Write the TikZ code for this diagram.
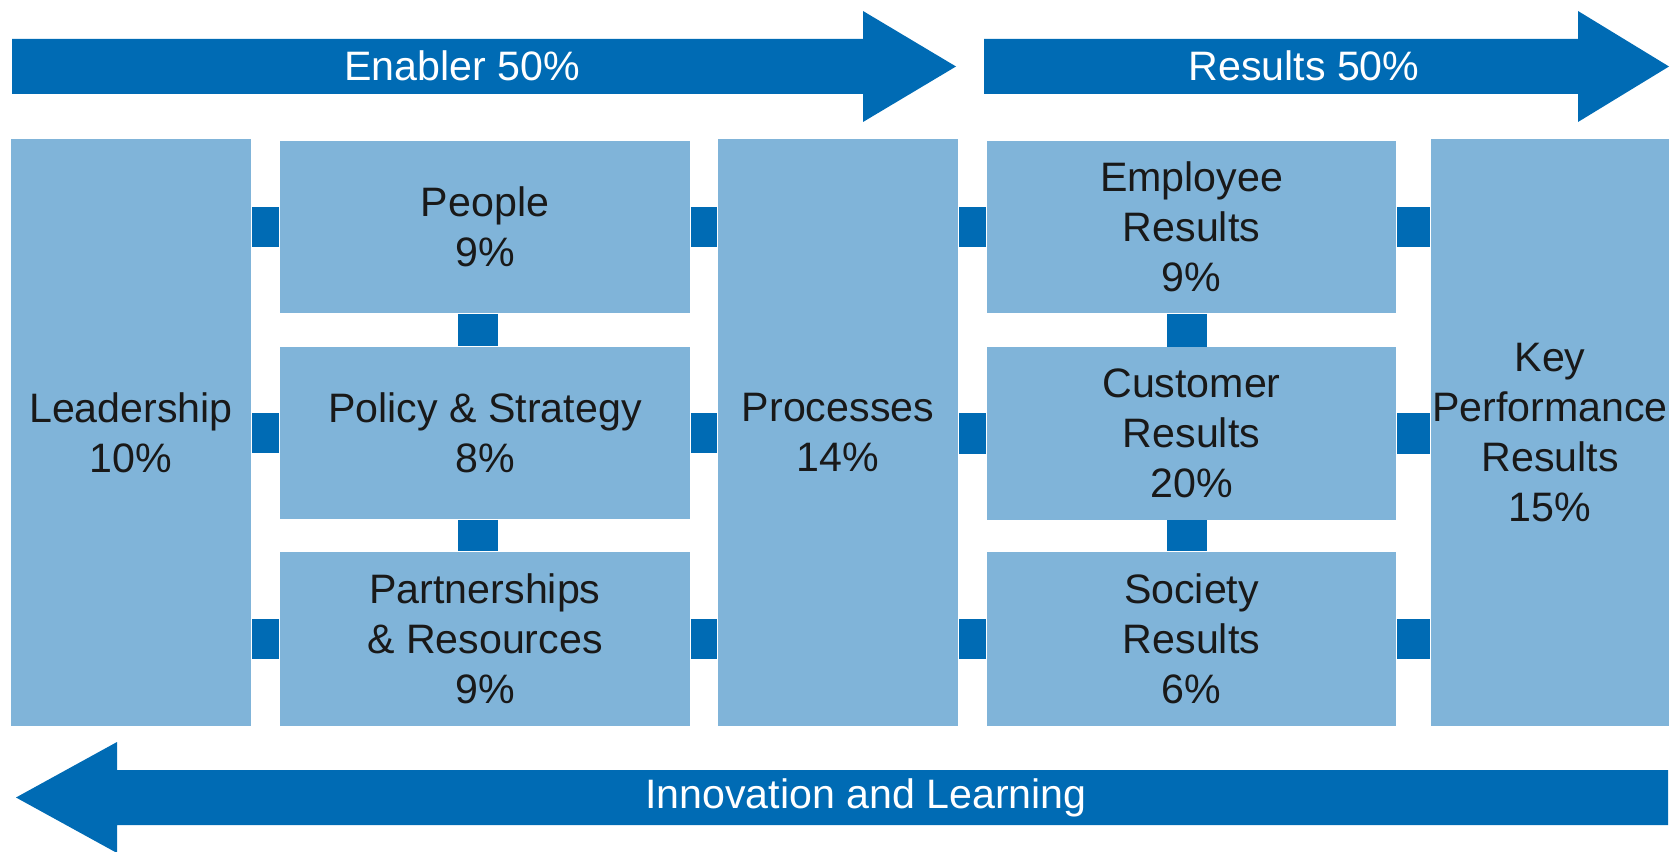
\documentclass[tikz,border=0pt]{standalone}
\usepackage{fontspec}
\setmainfont{Liberation Sans}
\usepackage{tikz}
\usetikzlibrary{positioning}
\usetikzlibrary{calc}
\definecolor{bleuefqm}{RGB}{0,107,180}
\definecolor{clairefqm}{RGB}{128,180,217}

\begin{document}
\begin{tikzpicture}[x=0.01cm,y=-0.01cm]
% les styles
\tikzstyle boiteefqm=[fill=clairefqm,inner sep=0pt,align=center,text=black!90,font=\fontsize{11.7}{14.2}\selectfont]
\tikzstyle hauteefqm=[boiteefqm,minimum width=2.4cm,minimum height=5.87cm]
\tikzstyle basseefqm=[boiteefqm,minimum width=4.1cm,minimum height=1.72cm]
\tikzstyle lienefqm=[draw=bleuefqm,line width=0.4cm]
\tikzstyle flecheefqm=[fill=bleuefqm]
\tikzstyle texteefqm=[text=white,font=\fontsize{11.7}{14.2}\selectfont]
\useasboundingbox (0,0) rectangle (1673,852);
% les flèches
\fill[flecheefqm] (12,39) -- (863,39) -- (863,11) -- (956,66.5) -- (863,122) -- (863,94) -- (12,94) -- cycle;
\fill[flecheefqm] (984,39) -- (1578,39) -- (1578,11) -- (1669,66.5) -- (1578,122) -- (1578,94) -- (984,94) -- cycle;
\fill[flecheefqm] (1668,770) -- (117,770) -- (117,742) -- (16,797.5) -- (117,853) -- (117,825) -- (1668,825) -- cycle;
\node[texteefqm] (enabler) at (462,66) {Enabler 50\%};
\node[texteefqm] (results) at (1304,66) {Results 50\%};
\node[texteefqm] (innovation) at (866,798) {Innovation and Learning};
% les boîtes
\node[hauteefqm] (leadership) at (131,432.5) {Leadership\\10\%};
\node[basseefqm] (people) at (485,227) {People\\9\%};
\node[basseefqm] (policy) at (485,433) {Policy \& Strategy\\8\%};
\node[basseefqm,minimum height=1.74cm] (partnerships) at (485,639) {Partnerships\\\& Resources\\9\%};
\node[hauteefqm] (processes) at (838,432.5) {Processes\\14\%};
\node[basseefqm,minimum width=4.09cm] (employee) at (1191.5,227) {Employee\\Results\\9\%};
\node[basseefqm,minimum width=4.09cm] (customer) at (1191.5,433.5) {Customer\\Results\\20\%};
\node[basseefqm,minimum width=4.09cm,minimum height=1.74cm] (society) at (1191.5,639) {Society\\Results\\6\%};
\node[hauteefqm,minimum width=2.38cm] (kpr) at (1550,432.5) {Key\\Performance\\Results\\15\%};
% les liens
\coordinate (colenabler) at (478,0);
\coordinate (colresults) at (1187,0);
\foreach \boite in {people,policy,partnerships}
{
    \draw[lienefqm] (\boite.west) -- (\boite.west -| leadership.east);
    \draw[lienefqm] (\boite.east) -- (\boite.east -| processes.west);
}
\foreach \boite in {employee,customer,society}
{
    \draw[lienefqm] (\boite.west) -- (\boite.west -| processes.east);
    \draw[lienefqm] (\boite.east) -- (\boite.east -| kpr.west);
}
\draw[lienefqm] (people.south -| colenabler) -- (policy.north -| colenabler);
\draw[lienefqm] (policy.south -| colenabler) -- (partnerships.north -| colenabler);
\draw[lienefqm] (employee.south -| colresults) -- (customer.north -| colresults);
\draw[lienefqm] (customer.south -| colresults) -- (society.north -| colresults);
\end{tikzpicture}
\end{document}
